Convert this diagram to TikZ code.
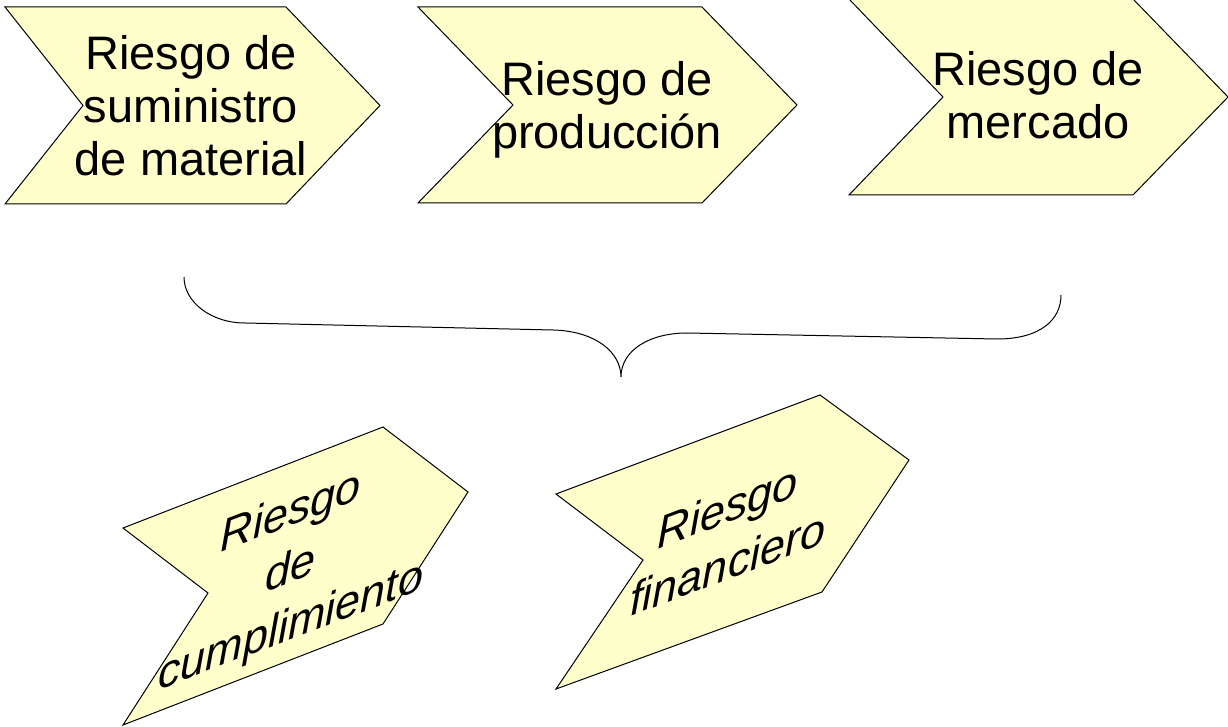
\documentclass[tikz,border=0pt]{standalone}
\usepackage{fontspec}
\setmainfont{Liberation Sans}
\usetikzlibrary{arrows,shapes}
\definecolor{chevfill}{RGB}{255,255,204}
\tikzstyle{chevron}=[draw=black,fill=chevfill,line width=0.5pt,line join=miter]
\tikzstyle{riskname}=[font=\fontsize{23.5pt}{26.5pt}\selectfont,align=center,inner sep=0pt]
\tikzstyle{sheared}=[font=\fontsize{22.5pt}{28.5pt}\selectfont\itshape,align=center,inner sep=0pt,yslant=0.38]
\tikzstyle{curlybrace} = [draw,line width=0.5pt]

\begin{document}
\begin{tikzpicture}[x=0.5pt,y=-0.5pt]
    \useasboundingbox (0,0) rectangle (1228,727);
    % First we draw the chevrons of the top row
    \foreach \lx/\rx/\px/\nx/\ya/\yb in {5/286/380/83/7/204, 418/702/797/513/7/203, 849/1133/1228/943/-1/195}
        \path[chevron] (\lx,\ya) -- (\rx,\ya) -- (\px,{(\ya+\yb)/2}) -- (\rx,\yb)
            -- (\lx,\yb) -- (\nx,{(\ya+\yb)/2}) -- cycle;
    % Then their texts
    \node[riskname] (suministro) at (191,106) {Riesgo de\\suministro\\de material};
    \node[riskname] (produccion) at (607,110) {Riesgo de\\producción};
    \node[riskname] (mercado) at (1038,95) {Riesgo de\\mercado};
    % The brace under the top row
    \draw[curlybrace] (184,277) .. controls (184,302) and (211,323) .. (245,323) -- (553,330)
        .. controls (595,331) and (621,352) .. (621,377)
        .. controls (621,350) and (650,333) .. (687,333) -- (997,339)
        .. controls (1040,339) and (1061,320) .. (1061,295);
    % Sheared chevrons of the bottom row
    \path[chevron] (123,528) -- (383,427) -- (468,492) -- (383,624) -- (123,725) -- (208,593) -- cycle;
    \path[chevron] (556,494) -- (820,395) -- (909,460) -- (822,592) -- (556,689) -- (643,560) -- cycle;
    % and their texts, sheared the same way
    \node[sheared] (cumplimiento) at (291,571) {Riesgo\\de\\cumplimiento};
    \node[sheared] (financiero) at (728,535) {Riesgo\\financiero};
\end{tikzpicture}
\end{document}
